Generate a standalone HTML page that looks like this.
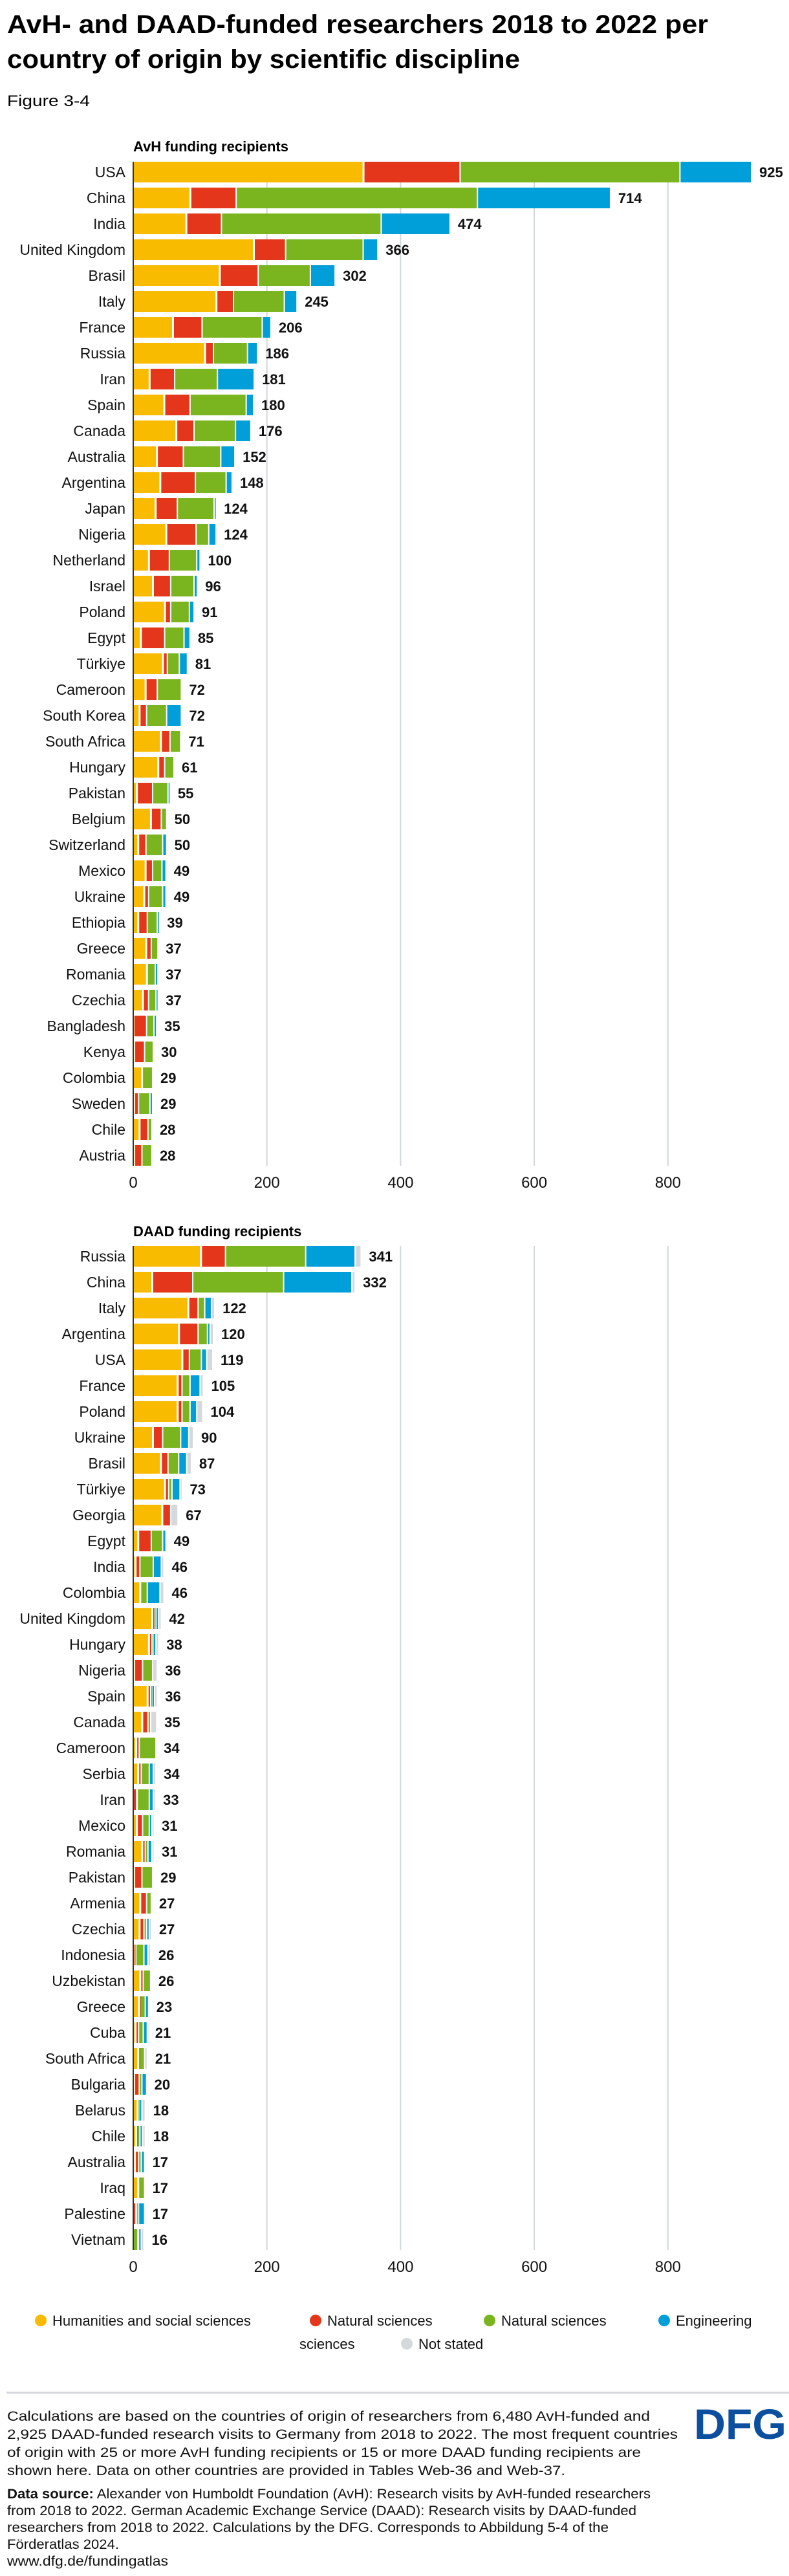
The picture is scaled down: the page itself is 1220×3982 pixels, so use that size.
<!DOCTYPE html>
<html><head><meta charset="utf-8"><style>
html,body{margin:0;padding:0;background:#fff}
svg{display:block;font-family:"Liberation Sans",sans-serif}
</style></head><body>
<svg id="chart" width="1220" height="3982" viewBox="0 0 1220 3982" xmlns="http://www.w3.org/2000/svg">
<text x="11" y="51" font-size="40" font-weight="bold" textLength="1084" lengthAdjust="spacingAndGlyphs">AvH- and DAAD-funded researchers 2018 to 2022 per</text>
<text x="11" y="105" font-size="40" font-weight="bold" textLength="793" lengthAdjust="spacingAndGlyphs">country of origin by scientific discipline</text>
<text x="11" y="164" font-size="24" textLength="128" lengthAdjust="spacingAndGlyphs">Figure 3-4</text>
<g id="avh"></g>
<g id="daad"></g>
<g id="legend"></g>
<rect x="10" y="3697" width="1210" height="3" fill="#d3d7db"/>
<g font-size="21" fill="#111">
<text x="11" y="3742" textLength="994" lengthAdjust="spacingAndGlyphs">Calculations are based on the countries of origin of researchers from 6,480 AvH-funded and</text>
<text x="11" y="3770" textLength="1037" lengthAdjust="spacingAndGlyphs">2,925 DAAD-funded research visits to Germany from 2018 to 2022. The most frequent countries</text>
<text x="11" y="3798" textLength="980" lengthAdjust="spacingAndGlyphs">of origin with 25 or more AvH funding recipients or 15 or more DAAD funding recipients are</text>
<text x="11" y="3826" textLength="863" lengthAdjust="spacingAndGlyphs">shown here. Data on other countries are provided in Tables Web-36 and Web-37.</text>
<text x="11" y="3862" textLength="995" lengthAdjust="spacingAndGlyphs"><tspan font-weight="bold">Data source:</tspan> Alexander von Humboldt Foundation (AvH): Research visits by AvH-funded researchers</text>
<text x="11" y="3888" textLength="973" lengthAdjust="spacingAndGlyphs">from 2018 to 2022. German Academic Exchange Service (DAAD): Research visits by DAAD-funded</text>
<text x="11" y="3914" textLength="930" lengthAdjust="spacingAndGlyphs">researchers from 2018 to 2022. Calculations by the DFG. Corresponds to Abbildung 5-4 of the</text>
<text x="11" y="3940" textLength="173" lengthAdjust="spacingAndGlyphs">Förderatlas 2024.</text>
<text x="11" y="3966" textLength="249" lengthAdjust="spacingAndGlyphs">www.dfg.de/fundingatlas</text>
</g>
<text x="1073" y="3770" font-size="66" font-weight="bold" fill="#0d4f9f" textLength="143" lengthAdjust="spacingAndGlyphs">DFG</text>
</svg>
<script>
// ---- AvH data ----
const avhCountries = ["USA","China","India","United Kingdom","Brasil","Italy","France","Russia","Iran","Spain","Canada","Australia","Argentina","Japan","Nigeria","Netherland","Israel","Poland","Egypt","Türkiye","Cameroon","South Korea","South Africa","Hungary","Pakistan","Belgium","Switzerland","Mexico","Ukraine","Ethiopia","Greece","Romania","Czechia","Bangladesh","Kenya","Colombia","Sweden","Chile","Austria"];
const avhHumanities = [345,86,80,181,130,125,60,108,25,47,65,36,41,34,50,24,30,48,12,45,19,10,42,38,6,27,8,19,17,8,20,21,15,1,2,14,2,10,2];
const avhNatural1 = [144,68,52,47,57,25,43,12,37,38,26,39,52,32,44,30,26,8,35,6,17,10,13,9,23,15,11,10,6,13,7,0,8,19,15,1,6,12,11];
const avhNatural2 = [329,361,239,116,78,76,90,51,64,84,62,56,46,55,19,41,35,28,29,18,36,30,16,14,23,8,25,14,21,15,10,12,11,11,13,14,17,6,15];
const avhEngineering = [107,199,103,22,37,19,13,15,55,11,23,21,9,3,11,5,5,7,9,12,0,22,0,0,3,0,6,6,5,3,0,4,3,4,0,0,4,0,0];
const avhNotStated = [0,0,0,0,0,0,0,0,0,0,0,0,0,0,0,0,0,0,0,0,0,0,0,0,0,0,0,0,0,0,0,0,0,0,0,0,0,0,0];
const avhTotals = [925,714,474,366,302,245,206,186,181,180,176,152,148,124,124,100,96,91,85,81,72,72,71,61,55,50,50,49,49,39,37,37,37,35,30,29,29,28,28];
// ---- DAAD data ----
const daadCountries = ["Russia","China","Italy","Argentina","USA","France","Poland","Ukraine","Brasil","Türkiye","Georgia","Egypt","India","Colombia","United Kingdom","Hungary","Nigeria","Spain","Canada","Cameroon","Serbia","Iran","Mexico","Romania","Pakistan","Armenia","Czechia","Indonesia","Uzbekistan","Greece","Cuba","South Africa","Bulgaria","Belarus","Chile","Australia","Iraq","Palestine","Vietnam"];
const daadHumanities = [102,29,83,69,74,67,67,30,42,48,44,8,4,11,29,24,2,22,14,5,8,0,6,14,2,11,10,1,11,9,4,8,2,7,5,3,8,0,0];
const daadNatural1 = [36,60,14,28,10,6,6,14,10,5,12,19,6,0,2,4,12,4,8,4,4,6,8,4,11,9,6,3,4,1,4,1,7,0,1,5,0,5,0];
const daadNatural2 = [120,136,10,14,18,12,12,27,16,5,0,17,20,10,3,2,15,2,4,25,12,18,10,4,16,7,4,12,11,8,7,8,4,2,4,4,9,3,8];
const daadEngineering = [74,102,10,4,8,15,10,12,12,12,0,5,12,19,4,4,0,4,0,0,6,6,4,6,0,0,4,6,0,5,6,0,7,4,4,5,0,9,4];
const daadNotStated = [9,5,5,5,9,5,9,7,7,3,11,0,4,6,4,4,7,4,9,0,4,3,3,3,0,0,3,4,0,0,0,4,0,5,4,0,0,0,4];
const daadTotals = [341,332,122,120,119,105,104,90,87,73,67,49,46,46,42,38,36,36,35,34,34,33,31,31,29,27,27,26,26,23,21,21,20,18,18,17,17,17,16];
// ---- axis ----
const tickValues = [0,200,400,600,800];
const tickLabels = ["0","200","400","600","800"];
const legendLabels = ["Humanities and social sciences","Natural sciences","Natural sciences","Engineering","Not stated"];
const colors = ["#f8bb00","#e4361a","#7ab51f","#009fda","#d6d9dc"];

const NS = "http://www.w3.org/2000/svg";
const X0 = 206, K = 1.0335;
function xScale(v){ return X0 + v*K; }
function mk(tag, attrs, parent){
  const e = document.createElementNS(NS, tag);
  for (const k in attrs) e.setAttribute(k, attrs[k]);
  parent.appendChild(e);
  return e;
}

function panel(gid, title, titleY, firstCenter, countries, series, totals, key){
  const g = document.getElementById(gid);
  const n = countries.length, pitch = 40, bh = 32;
  const top = firstCenter - bh/2, bottom = firstCenter + (n-1)*pitch + bh/2;
  const t = mk("text", {x:X0, y:titleY+8, "font-size":22, "font-weight":"bold"}, g);
  
  
  t.textContent = title;
  tickValues.forEach((v,i)=>{
    if (v > 0) {
      const l = mk("line", {x1:xScale(v), x2:xScale(v), y1:top, y2:bottom, stroke:"#d3d7db", "stroke-width":2}, g);
      
      
    }
    const tl = mk("text", {x:xScale(v), y:bottom+34, "font-size":24, "text-anchor":"middle", fill:"#111"}, g);
    
    
    tl.textContent = tickLabels[i];
  });
  countries.forEach((c,i)=>{
    const cy = firstCenter + i*pitch;
    const lab = mk("text", {x:194, y:cy+8, "font-size":23, "text-anchor":"end", fill:"#111"}, g);
    
    
    lab.textContent = c;
    let acc = 0;
    series.forEach((s,j)=>{
      const v = s[i];
      if (v > 0) {
        const x1 = xScale(acc), x2 = xScale(acc+v);
        const w = Math.max(x2 - x1 - 2, 1.5);
        const r = mk("rect", {x:x1+ (acc>0?1:0), y:cy-bh/2, width:w, height:bh, fill:colors[j]}, g);
        
        
      }
      acc += v;
    });
    const val = mk("text", {x:xScale(acc)+12, y:cy+8, "font-size":22, "font-weight":"bold", fill:"#111"}, g);
    
    
    val.textContent = totals[i];
  });
  const ax = mk("line", {x1:X0, x2:X0, y1:top, y2:bottom, stroke:"#333", "stroke-width":2}, g);
  
  
}

panel("avh", "AvH funding recipients", 226, 266, avhCountries,
  [avhHumanities, avhNatural1, avhNatural2, avhEngineering, avhNotStated], avhTotals, "avh");
panel("daad", "DAAD funding recipients", 1903, 1942, daadCountries,
  [daadHumanities, daadNatural1, daadNatural2, daadEngineering, daadNotStated], daadTotals, "daad");

// legend
const lg = document.getElementById("legend");
const legendPos = [[63,3587],[488,3587],[757,3587],[1027,3587],[629,3623]];
legendLabels.forEach((lbl,i)=>{
  const p = legendPos[i];
  const c = mk("circle", {cx:p[0], cy:p[1], r:9, fill:colors[i]}, lg);
  
  
  const t = mk("text", {x:p[0]+18, y:p[1]+8, "font-size":22, fill:"#111"}, lg);
  
  
  t.textContent = lbl;
});
const ex = mk("text", {x:463, y:3631, "font-size":22, fill:"#111"}, lg);


ex.textContent = "sciences";
</script>
</body></html>
